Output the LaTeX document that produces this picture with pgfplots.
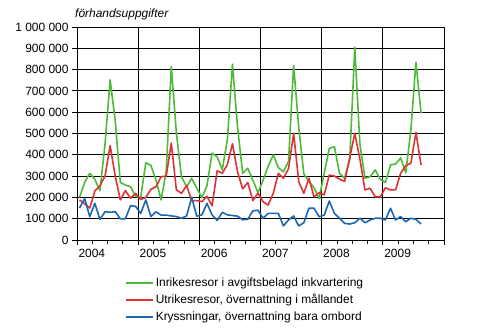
\documentclass[border=0pt]{standalone}
\usepackage{pgfplots}
\pgfplotsset{compat=1.18}
\usepackage{pgfplotstable}
\usepackage{fontspec}
\setmainfont{Liberation Sans}
\definecolor{cgreen}{RGB}{77,187,56}
\definecolor{cred}{RGB}{222,50,52}
\definecolor{cblue}{RGB}{28,104,176}
\pgfplotstableread{
x g r b
0.5 200000 188000 150000
1.5 270000 170000 195000
2.5 313000 150000 110000
3.5 285000 230000 172000
4.5 232000 255000 97000
5.5 450000 300000 133000
6.5 752000 443000 130000
7.5 560000 300000 133000
8.5 270000 188000 99000
9.5 258000 232000 100000
10.5 250000 196000 161000
11.5 205000 219000 158000
12.5 200000 190000 125000
13.5 363000 200000 188000
14.5 350000 238000 110000
15.5 282000 250000 132000
16.5 188000 297000 117000
17.5 320000 300000 117000
18.5 814000 455000 113000
19.5 502000 235000 110000
20.5 297000 219000 102000
21.5 250000 256000 113000
22.5 290000 185000 200000
23.5 243000 185000 112000
24.5 200000 180000 118000
25.5 255000 205000 172000
26.5 408000 160000 118000
27.5 390000 325000 92000
28.5 330000 313000 130000
29.5 470000 355000 118000
30.5 825000 452000 115000
31.5 530000 320000 112000
32.5 313000 240000 95000
33.5 337000 270000 97000
34.5 282000 185000 137000
35.5 222000 220000 140000
36.5 280000 180000 102000
37.5 345000 164000 125000
38.5 400000 219000 125000
39.5 340000 313000 125000
40.5 320000 290000 66000
41.5 370000 335000 94000
42.5 820000 501000 113000
43.5 530000 274000 66000
44.5 310000 219000 81000
45.5 275000 290000 149000
46.5 245000 203000 149000
47.5 195000 222000 109000
48.5 313000 212000 117000
49.5 430000 305000 183000
50.5 438000 300000 125000
51.5 313000 286000 102000
52.5 290000 275000 78000
53.5 376000 385000 75000
54.5 905000 501000 81000
55.5 450000 380000 102000
56.5 290000 235000 81000
57.5 297000 243000 94000
58.5 329000 203000 102000
59.5 285000 202000 102000
60.5 270000 245000 94000
61.5 352000 235000 149000
62.5 357000 235000 94000
63.5 385000 313000 110000
64.5 315000 350000 86000
65.5 516000 360000 102000
66.5 835000 505000 97000
67.5 595000 352000 75000
}\data
\begin{document}
\begin{tikzpicture}[font=\fontsize{12}{14}\selectfont]
\useasboundingbox (-77bp,-89bp) rectangle (403bp,240bp);
\begin{axis}[
  at={(0,0)}, anchor=south west,
  scale only axis, width=367bp, height=213bp,
  xmin=0, xmax=72, ymin=0, ymax=1000000,
  clip mode=individual,
  xtick={0,12,...,72},
  xticklabels={2004,2005,2006,2007,2008,2009,},
  minor xtick={3,6,9,15,18,21,27,30,33,39,42,45,51,54,57,63,66,69},
  ytick={0,100000,...,1000000},
  scaled y ticks=false,
  yticklabel style={/pgf/number format/.cd, fixed, precision=0, 1000 sep={\ }, assume math mode=true},
  xticklabel style={anchor=north west, xshift=-2bp, yshift=-1bp},
  tick pos=left, tick align=outside,
  major tick length=5bp, minor tick length=4bp,
  every tick/.style={black, line width=0.8bp},
  xmajorgrids, ymajorgrids,
  major grid style={black, line width=0.8bp},
  axis line style={black, line width=0.8bp},
  ticklabel style={font=\fontsize{12}{14}\selectfont},
  legend style={draw=none, fill=none, at={(48bp,-35.5bp)}, anchor=north west,
    font=\fontsize{12}{14}\selectfont, inner sep=0pt, row sep=2.5bp,
    legend cell align=left},
  legend image code/.code={\draw[#1] (0bp,0bp) -- (27bp,0bp);},
  every axis plot/.append style={line width=1.6bp, line join=round},
]
\addplot[cgreen] table[x=x, y=g] {\data};
\addlegendentry{Inrikesresor i avgiftsbelagd inkvartering}
\addplot[cred] table[x=x, y=r] {\data};
\addlegendentry{Utrikesresor, övernattning i mållandet}
\addplot[cblue] table[x=x, y=b] {\data};
\addlegendentry{Kryssningar, övernattning bara ombord}
\node[anchor=base west, font=\fontsize{12}{14}\selectfont\itshape, inner sep=0pt] at (rel axis cs:0,1) [xshift=-2bp, yshift=9.5bp] {förhandsuppgifter};
\end{axis}
\end{tikzpicture}
\end{document}
